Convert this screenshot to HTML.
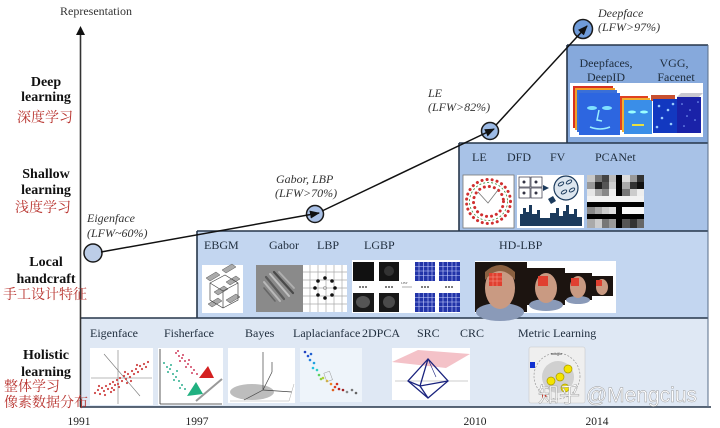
<!DOCTYPE html>
<html><head><meta charset="utf-8">
<style>
html,body{margin:0;padding:0;background:#fff;}
svg{display:block;}
.s{font-family:"Liberation Serif","Noto Serif CJK SC",serif;}
.cn{font-family:"Liberation Serif","Noto Serif CJK SC",serif;fill:#b8332e;font-size:14px;}
.lb{font-family:"Liberation Serif",serif;font-weight:bold;font-size:14px;fill:#111;text-anchor:middle;}
.it{font-family:"Liberation Serif",serif;font-style:italic;font-size:12px;fill:#333;}
.bx{font-family:"Liberation Serif",serif;font-size:12px;fill:#1f2d3d;}
.yr{font-family:"Liberation Serif",serif;font-size:11.5px;fill:#222;text-anchor:middle;}
</style></head>
<body>
<svg width="720" height="428" viewBox="0 0 720 428" xmlns="http://www.w3.org/2000/svg">
<defs>
<marker id="ah" markerWidth="10" markerHeight="8" refX="9" refY="4" orient="auto" markerUnits="userSpaceOnUse">
<path d="M0,0 L10,4 L0,8 z" fill="#111"/>
</marker>
</defs>

<!-- Boxes -->
<rect x="80" y="318" width="628" height="89" fill="#dfe8f4"/>
<rect x="197" y="231" width="511" height="87" fill="#c3d6f0"/>
<rect x="459" y="143" width="249" height="88" fill="#a8c2e7"/>
<rect x="567" y="45" width="141" height="98" fill="#86a9dc"/>
<g stroke="#26364a" stroke-width="1.6" fill="none">
<line x1="80" y1="318" x2="708" y2="318"/>
<line x1="197" y1="231" x2="708" y2="231"/>
<line x1="197" y1="231" x2="197" y2="318"/>
<line x1="459" y1="143" x2="708" y2="143"/>
<line x1="459" y1="143" x2="459" y2="231"/>
<line x1="567" y1="45" x2="708" y2="45"/>
<line x1="567" y1="45" x2="567" y2="143"/>
<line x1="80" y1="407" x2="711" y2="407"/>
</g>
<line x1="708" y1="45" x2="708" y2="407" stroke="#5a6e88" stroke-width="1"/>

<!-- axis -->
<line x1="80.5" y1="407" x2="80.5" y2="33" stroke="#333" stroke-width="1.6"/>
<polygon points="80.5,26 76,35 85,35" fill="#111"/>
<text class="s" x="60" y="15" font-size="12" fill="#333">Representation</text>

<!-- left labels -->
<text class="lb" x="46" y="86">Deep</text>
<text class="lb" x="46" y="101">learning</text>
<text class="cn" x="17" y="122">深度学习</text>
<text class="lb" x="46" y="178">Shallow</text>
<text class="lb" x="46" y="194">learning</text>
<text class="cn" x="15" y="212">浅度学习</text>
<text class="lb" x="46" y="266">Local</text>
<text class="lb" x="46" y="283">handcraft</text>
<text class="cn" x="3" y="299">手工设计特征</text>
<text class="lb" x="46" y="359">Holistic</text>
<text class="lb" x="46" y="376">learning</text>
<text class="cn" x="4" y="391">整体学习</text>
<text class="cn" x="4" y="407">像素数据分布</text>

<!-- years -->
<text class="yr" x="79" y="425">1991</text>
<text class="yr" x="197" y="425">1997</text>
<text class="yr" x="475" y="425">2010</text>
<text class="yr" x="597" y="425">2014</text>

<!-- markers -->
<circle cx="93" cy="253" r="9" fill="#bccde7" stroke="#1a1a1a" stroke-width="1.5"/>
<circle cx="315" cy="214" r="8.5" fill="#a9c0e6" stroke="#1a1a1a" stroke-width="1.5"/>
<circle cx="490" cy="131" r="8.5" fill="#9dbbe6" stroke="#1a1a1a" stroke-width="1.5"/>
<circle cx="583" cy="29" r="9.5" fill="#6f9bd9" stroke="#1a1a1a" stroke-width="1.5"/>
<g stroke="#111" stroke-width="1.5" fill="none">
<line x1="101" y1="252" x2="319" y2="213" marker-end="url(#ah)"/>
<line x1="322" y1="211" x2="494" y2="129" marker-end="url(#ah)"/>
<line x1="496" y1="125" x2="587" y2="26" marker-end="url(#ah)"/>
</g>

<!-- italic labels -->
<text class="it" x="87" y="222">Eigenface</text>
<text class="it" x="87" y="237">(LFW~60%)</text>
<text class="it" x="276" y="183">Gabor, LBP</text>
<text class="it" x="275" y="197">(LFW&gt;70%)</text>
<text class="it" x="428" y="97">LE</text>
<text class="it" x="428" y="111">(LFW&gt;82%)</text>
<text class="it" x="598" y="17">Deepface</text>
<text class="it" x="598" y="31">(LFW&gt;97%)</text>

<!-- Deep box -->
<text class="bx" x="606" y="67" text-anchor="middle">Deepfaces,</text>
<text class="bx" x="606" y="81" text-anchor="middle">DeepID</text>
<text class="bx" x="674" y="67" text-anchor="middle">VGG,</text>
<text class="bx" x="676" y="81" text-anchor="middle">Facenet</text>
<rect x="570" y="83" width="133" height="54" fill="#fff"/>
<rect x="573" y="86" width="40" height="42" fill="#d83020"/>
<rect x="575" y="88" width="40" height="42" fill="#f0a028"/>
<rect x="577" y="90" width="40" height="42" fill="#3a6fd8"/>
<rect x="579" y="93" width="41" height="42" fill="#2d66e0"/>
<ellipse cx="592" cy="108" rx="5" ry="2" fill="#7fe0ff"/>
<ellipse cx="607" cy="108" rx="5" ry="2" fill="#7fe0ff"/>
<path d="M599,110 L597,120 L602,121" stroke="#9ef" stroke-width="1.5" fill="none"/>
<path d="M590,127 Q600,131 610,127" stroke="#9ef" stroke-width="1.5" fill="none"/>
<rect x="620" y="96" width="28" height="34" fill="#e04020"/>
<rect x="622" y="98" width="28" height="34" fill="#f0b030"/>
<rect x="624" y="100" width="28" height="34" fill="#3a8ee8"/>
<ellipse cx="632" cy="112" rx="4" ry="1.5" fill="#9ff"/>
<ellipse cx="644" cy="112" rx="4" ry="1.5" fill="#9ff"/>
<rect x="632" y="124" width="12" height="2" fill="#e8e040"/>
<rect x="651" y="95" width="24" height="6" fill="#c85030"/>
<rect x="653" y="99" width="24" height="34" fill="#1238c0"/>
<g fill="#9cf"><circle cx="659" cy="106" r="1.3"/><circle cx="668" cy="110" r="1.3"/><circle cx="662" cy="118" r="1.3"/><circle cx="671" cy="124" r="1.3"/><circle cx="657" cy="127" r="1.3"/><circle cx="673" cy="104" r="1.3"/></g>
<polygon points="677,97 699,97 703,93 681,93" fill="#c8c8d0"/>
<rect x="677" y="97" width="24" height="36" fill="#1a22a8"/>
<g fill="#8af"><circle cx="682" cy="104" r="0.8"/><circle cx="690" cy="110" r="0.8"/><circle cx="695" cy="120" r="0.8"/><circle cx="684" cy="126" r="0.8"/><circle cx="698" cy="102" r="0.8"/><circle cx="687" cy="116" r="0.8"/></g>

<!-- Shallow box -->
<text class="bx" x="472" y="161">LE</text>
<text class="bx" x="507" y="161">DFD</text>
<text class="bx" x="550" y="161">FV</text>
<text class="bx" x="595" y="161">PCANet</text>
<rect x="463" y="175" width="51" height="53" fill="#fff" stroke="#777" stroke-width="0.8"/>
<circle cx="488.5" cy="201.5" r="19" fill="none" stroke="#3a8a3a" stroke-width="0.8" stroke-dasharray="2 2"/>
<circle cx="488.5" cy="201.5" r="22" fill="none" stroke="#d03030" stroke-width="3" stroke-dasharray="0.1 5" stroke-linecap="round"/>
<circle cx="488.5" cy="201.5" r="15" fill="none" stroke="#d03030" stroke-width="3" stroke-dasharray="0.1 5" stroke-linecap="round"/>
<path d="M478,192 L488,203 L498,190" stroke="#777" stroke-width="0.8" fill="none"/>
<rect x="517" y="175" width="67" height="53" fill="#fff"/>
<g stroke="#334" stroke-width="0.7" fill="#fff">
<rect x="519" y="177" width="11" height="10"/><rect x="531" y="177" width="11" height="10"/>
<rect x="519" y="188" width="11" height="10"/><rect x="531" y="188" width="11" height="10"/>
</g>
<g fill="#334"><circle cx="524" cy="182" r="1.5"/><circle cx="536" cy="182" r="1.5"/><circle cx="524" cy="193" r="1.5"/><circle cx="536" cy="193" r="1.5"/></g>
<polygon points="543,185 549,188 543,191" fill="#1b3a5c"/>
<circle cx="566" cy="188" r="12" fill="#dde6ef" stroke="#1b3a5c" stroke-width="1.2"/>
<g fill="none" stroke="#1b3a5c" stroke-width="1"><ellipse cx="561" cy="184" rx="3" ry="1.5" transform="rotate(-30 561 184)"/><ellipse cx="569" cy="182" rx="3" ry="1.5" transform="rotate(-30 569 182)"/><ellipse cx="564" cy="192" rx="3" ry="1.5" transform="rotate(-30 564 192)"/><ellipse cx="572" cy="190" rx="3" ry="1.5" transform="rotate(-30 572 190)"/></g>
<path d="M520,226 L520,214 L523,214 L523,208 L526,208 L526,212 L529,212 L529,205 L532,205 L532,214 L537,214 L537,210 L540,210 L540,218 L550,218 L550,213 L556,213 L556,208 L559,208 L559,216 L563,216 L563,211 L566,211 L566,205 L569,205 L569,214 L574,214 L574,209 L577,209 L577,217 L582,217 L582,226 Z" fill="#1b3a5c"/>
<polygon points="548,199 553,196 556,201 551,204" fill="#1b3a5c"/>
<g>
<rect x="587" y="175" width="57" height="53" fill="#ddd"/>
<rect x="587" y="175" width="8" height="7" fill="#c8c8c8"/><rect x="595" y="175" width="7" height="7" fill="#777"/><rect x="602" y="175" width="7" height="7" fill="#444"/><rect x="609" y="175" width="7" height="7" fill="#bbb"/><rect x="616" y="175" width="6" height="53" fill="#000"/><rect x="622" y="175" width="8" height="7" fill="#ddd"/><rect x="630" y="175" width="7" height="7" fill="#999"/><rect x="637" y="175" width="7" height="7" fill="#333"/>
<rect x="587" y="182" width="8" height="7" fill="#999"/><rect x="595" y="182" width="7" height="7" fill="#222"/><rect x="602" y="182" width="7" height="7" fill="#555"/><rect x="609" y="182" width="7" height="7" fill="#ccc"/><rect x="622" y="182" width="8" height="7" fill="#aaa"/><rect x="630" y="182" width="7" height="7" fill="#333"/><rect x="637" y="182" width="7" height="7" fill="#111"/>
<rect x="587" y="189" width="8" height="7" fill="#e6e6e6"/><rect x="595" y="189" width="7" height="7" fill="#aaa"/><rect x="602" y="189" width="7" height="7" fill="#888"/><rect x="609" y="189" width="7" height="7" fill="#eee"/><rect x="622" y="189" width="8" height="7" fill="#777"/><rect x="630" y="189" width="7" height="7" fill="#ccc"/><rect x="637" y="189" width="7" height="7" fill="#eee"/>
<rect x="587" y="196" width="57" height="6" fill="#f2f2f2"/>
<rect x="587" y="202" width="57" height="5" fill="#000"/>
<rect x="587" y="207" width="8" height="7" fill="#888"/><rect x="595" y="207" width="7" height="7" fill="#aaa"/><rect x="602" y="207" width="7" height="7" fill="#ccc"/><rect x="609" y="207" width="7" height="7" fill="#ddd"/><rect x="622" y="207" width="22" height="7" fill="#f8f8f8"/>
<rect x="587" y="214" width="57" height="5" fill="#000"/>
<rect x="587" y="219" width="8" height="9" fill="#aaa"/><rect x="595" y="219" width="7" height="9" fill="#ccc"/><rect x="602" y="219" width="7" height="9" fill="#777"/><rect x="609" y="219" width="7" height="9" fill="#999"/><rect x="622" y="219" width="8" height="9" fill="#555"/><rect x="630" y="219" width="7" height="9" fill="#333"/><rect x="637" y="219" width="7" height="9" fill="#666"/>
</g>

<!-- Local box -->
<text class="bx" x="204" y="249">EBGM</text>
<text class="bx" x="269" y="249">Gabor</text>
<text class="bx" x="317" y="249">LBP</text>
<text class="bx" x="364" y="249">LGBP</text>
<text class="bx" x="499" y="249">HD-LBP</text>
<rect x="202" y="265" width="41" height="48" fill="#fff"/>
<g fill="#aaa" stroke="#555" stroke-width="0.5">
<polygon points="206,278 216,272 220,275 210,281"/>
<polygon points="222,270 232,264 236,267 226,273" />
<polygon points="214,292 224,286 228,289 218,295"/>
<polygon points="226,282 236,276 240,279 230,285"/>
<polygon points="208,304 218,298 222,301 212,307"/>
<polygon points="226,300 236,294 240,297 230,303"/>
</g>
<path d="M210,283 L225,275 L238,283 L238,300 L223,308 L210,300 Z M210,283 L223,291 L238,283 M223,291 L223,308" stroke="#444" stroke-width="0.7" fill="none"/>
<rect x="256" y="265" width="47" height="47" fill="#8a8a8a"/>
<g stroke-linecap="round">
<line x1="266" y1="277" x2="284" y2="299" stroke="#5a5a5a" stroke-width="2.2"/>
<line x1="270" y1="274" x2="289" y2="296" stroke="#c0c0c0" stroke-width="2"/>
<line x1="274" y1="272" x2="293" y2="293" stroke="#4a4a4a" stroke-width="2.2"/>
<line x1="264" y1="282" x2="280" y2="301" stroke="#b8b8b8" stroke-width="2"/>
<line x1="279" y1="272" x2="294" y2="288" stroke="#b0b0b0" stroke-width="1.8"/>
<line x1="264" y1="288" x2="275" y2="301" stroke="#666" stroke-width="1.6"/>
</g>
<rect x="303" y="265" width="44" height="47" fill="#fff"/>
<g stroke="#aaa" stroke-width="0.7">
<line x1="303" y1="272" x2="347" y2="272"/><line x1="303" y1="280" x2="347" y2="280"/><line x1="303" y1="288" x2="347" y2="288"/><line x1="303" y1="296" x2="347" y2="296"/><line x1="303" y1="304" x2="347" y2="304"/>
<line x1="310" y1="265" x2="310" y2="312"/><line x1="318" y1="265" x2="318" y2="312"/><line x1="326" y1="265" x2="326" y2="312"/><line x1="334" y1="265" x2="334" y2="312"/><line x1="342" y1="265" x2="342" y2="312"/>
</g>
<g fill="#111"><circle cx="325" cy="278" r="1.8"/><circle cx="332" cy="281" r="1.8"/><circle cx="335" cy="288" r="1.8"/><circle cx="332" cy="295" r="1.8"/><circle cx="325" cy="298" r="1.8"/><circle cx="318" cy="295" r="1.8"/><circle cx="315" cy="288" r="1.8"/><circle cx="318" cy="281" r="1.8"/></g>
<circle cx="325" cy="288" r="1.5" fill="none" stroke="#888" stroke-width="0.6"/>
<rect x="352" y="260" width="108" height="53" fill="#fff"/>
<rect x="353" y="262" width="21" height="19" fill="#111"/><rect x="379" y="262" width="20" height="19" fill="#151515"/>
<rect x="353" y="293" width="21" height="19" fill="#1a1a1a"/><rect x="379" y="293" width="20" height="19" fill="#181818"/>
<ellipse cx="363" cy="302" rx="7" ry="6" fill="#555"/><ellipse cx="389" cy="302" rx="6" ry="6" fill="#4a4a4a"/>
<ellipse cx="389" cy="271" rx="5" ry="5" fill="#333"/>
<g fill="#222"><circle cx="360" cy="287" r="0.9"/><circle cx="363" cy="287" r="0.9"/><circle cx="366" cy="287" r="0.9"/><circle cx="386" cy="287" r="0.9"/><circle cx="389" cy="287" r="0.9"/><circle cx="392" cy="287" r="0.9"/><circle cx="422" cy="287" r="0.9"/><circle cx="425" cy="287" r="0.9"/><circle cx="428" cy="287" r="0.9"/><circle cx="446" cy="287" r="0.9"/><circle cx="449" cy="287" r="0.9"/><circle cx="452" cy="287" r="0.9"/></g>
<line x1="402" y1="287" x2="412" y2="287" stroke="#777" stroke-width="0.6"/>
<text x="401" y="284" font-size="3.5" fill="#555" class="s">LBP</text>
<g>
<rect x="415" y="262" width="20" height="19" fill="#2234a8"/><rect x="439" y="262" width="21" height="19" fill="#2234a8"/>
<rect x="415" y="293" width="20" height="19" fill="#2234a8"/><rect x="439" y="293" width="21" height="19" fill="#2234a8"/>
<g stroke="#c8d0ff" stroke-width="0.6">
<path d="M415,266.5 h20 M415,271 h20 M415,275.5 h20 M419,262 v19 M423.5,262 v19 M428,262 v19 M432,262 v19"/>
<path d="M439,266.5 h21 M439,271 h21 M439,275.5 h21 M443,262 v19 M447.5,262 v19 M452,262 v19 M456,262 v19"/>
<path d="M415,297.5 h20 M415,302 h20 M415,306.5 h20 M419,293 v19 M423.5,293 v19 M428,293 v19 M432,293 v19"/>
<path d="M439,297.5 h21 M439,302 h21 M439,306.5 h21 M443,293 v19 M447.5,293 v19 M452,293 v19 M456,293 v19"/>
</g>
</g>
<rect x="475" y="261" width="141" height="52" fill="#fff"/>
<rect x="475" y="262" width="52" height="50" fill="#1c1410"/>
<ellipse cx="500" cy="312" rx="24" ry="9" fill="#8a9ab8"/>
<ellipse cx="500" cy="288" rx="15" ry="21" fill="#c99a82"/>
<path d="M485,280 Q500,262 515,280 L515,272 Q500,258 485,272 Z" fill="#8a6040"/>
<rect x="489" y="273" width="13" height="13" fill="#e04030"/>
<g stroke="#f7a090" stroke-width="0.5"><path d="M489,277 h13 M489,281 h13 M493,273 v13 M497,273 v13"/></g>
<rect x="527" y="268" width="38" height="37" fill="#1c1410"/>
<ellipse cx="546" cy="305" rx="17" ry="6" fill="#8a9ab8"/>
<ellipse cx="546" cy="288" rx="11" ry="15" fill="#c99a82"/>
<rect x="538" y="276" width="10" height="10" fill="#e04030"/>
<rect x="565" y="273" width="27" height="27" fill="#1c1410"/>
<ellipse cx="578" cy="300" rx="12" ry="4" fill="#8a9ab8"/>
<ellipse cx="578" cy="287" rx="8" ry="11" fill="#c99a82"/>
<rect x="571" y="278" width="8" height="8" fill="#e04030"/>
<rect x="592" y="276" width="21" height="20" fill="#1c1410"/>
<ellipse cx="602" cy="287" rx="6" ry="8" fill="#c99a82"/>
<rect x="596" y="280" width="6" height="6" fill="#e04030"/>

<!-- Holistic box -->
<text class="bx" x="90" y="337">Eigenface</text>
<text class="bx" x="164" y="337">Fisherface</text>
<text class="bx" x="245" y="337">Bayes</text>
<text class="bx" x="293" y="337">Laplacianface</text>
<text class="bx" x="362" y="337">2DPCA</text>
<text class="bx" x="417" y="337">SRC</text>
<text class="bx" x="460" y="337">CRC</text>
<text class="bx" x="518" y="337">Metric Learning</text>

<rect x="90" y="348" width="63" height="57" fill="#fff"/>
<g stroke="#777" stroke-width="0.6">
<line x1="91" y1="378" x2="152" y2="378"/><line x1="118" y1="350" x2="118" y2="404"/>
<line x1="104" y1="354" x2="140" y2="396"/>
</g>
<g fill="#d04848">
<circle cx="95" cy="393" r="1.1"/><circle cx="98" cy="390" r="1.1"/><circle cx="100" cy="394" r="1.1"/><circle cx="102" cy="388" r="1.1"/><circle cx="104" cy="391" r="1.1"/><circle cx="106" cy="386" r="1.1"/><circle cx="108" cy="389" r="1.1"/><circle cx="110" cy="384" r="1.1"/><circle cx="112" cy="388" r="1.1"/><circle cx="113" cy="382" r="1.1"/><circle cx="115" cy="385" r="1.1"/><circle cx="117" cy="380" r="1.1"/><circle cx="118" cy="384" r="1.1"/><circle cx="120" cy="378" r="1.1"/><circle cx="122" cy="381" r="1.1"/><circle cx="124" cy="376" r="1.1"/><circle cx="126" cy="379" r="1.1"/><circle cx="128" cy="374" r="1.1"/><circle cx="130" cy="377" r="1.1"/><circle cx="132" cy="371" r="1.1"/><circle cx="134" cy="374" r="1.1"/><circle cx="136" cy="369" r="1.1"/><circle cx="138" cy="372" r="1.1"/><circle cx="140" cy="366" r="1.1"/><circle cx="142" cy="369" r="1.1"/><circle cx="144" cy="364" r="1.1"/><circle cx="146" cy="367" r="1.1"/><circle cx="148" cy="362" r="1.1"/><circle cx="105" cy="395" r="1.1"/><circle cx="111" cy="392" r="1.1"/><circle cx="125" cy="372" r="1.1"/><circle cx="131" cy="381" r="1.1"/><circle cx="119" cy="387" r="1.1"/><circle cx="137" cy="365" r="1.1"/><circle cx="99" cy="386" r="1.1"/><circle cx="114" cy="390" r="1.1"/><circle cx="127" cy="383" r="1.1"/>
</g>
<rect x="158" y="348" width="65" height="57" fill="#fff"/>
<g stroke="#333" stroke-width="0.8"><line x1="160" y1="349" x2="160" y2="404"/><line x1="160" y1="404" x2="222" y2="404"/></g>
<line x1="196" y1="401" x2="222" y2="379" stroke="#999" stroke-width="2"/>
<g fill="#d04060">
<circle cx="176" cy="353" r="1"/><circle cx="179" cy="356" r="1"/><circle cx="182" cy="358" r="1"/><circle cx="180" cy="361" r="1"/><circle cx="185" cy="361" r="1"/><circle cx="188" cy="364" r="1"/><circle cx="186" cy="367" r="1"/><circle cx="191" cy="367" r="1"/><circle cx="194" cy="370" r="1"/><circle cx="192" cy="373" r="1"/><circle cx="197" cy="374" r="1"/><circle cx="178" cy="351" r="1"/><circle cx="183" cy="355" r="1"/><circle cx="189" cy="360" r="1"/>
</g>
<g fill="#30b090">
<circle cx="164" cy="363" r="1"/><circle cx="167" cy="367" r="1"/><circle cx="170" cy="369" r="1"/><circle cx="168" cy="372" r="1"/><circle cx="173" cy="374" r="1"/><circle cx="176" cy="377" r="1"/><circle cx="174" cy="380" r="1"/><circle cx="179" cy="381" r="1"/><circle cx="182" cy="385" r="1"/><circle cx="180" cy="388" r="1"/><circle cx="185" cy="389" r="1"/><circle cx="171" cy="365" r="1"/><circle cx="177" cy="371" r="1"/>
</g>
<polygon points="199,378 208,366 214,378" fill="#d42020"/>
<polygon points="187,396 196,382 203,394" fill="#20b080"/>

<rect x="228" y="348" width="67" height="55" fill="#fff"/>
<ellipse cx="252" cy="392" rx="22" ry="8" fill="#bdbdbd"/>
<g stroke="#444" stroke-width="0.7" fill="none">
<line x1="263" y1="352" x2="263" y2="390"/><line x1="263" y1="390" x2="244" y2="400"/><line x1="263" y1="390" x2="292" y2="392"/>
<line x1="263" y1="390" x2="272" y2="372"/><line x1="272" y1="372" x2="272" y2="362"/>
</g>
<g stroke="#aaa" stroke-width="0.5" fill="none"><path d="M230,401 L289,401 L294,384"/></g>

<rect x="300" y="348" width="62" height="54" fill="#eef4fa"/>
<g>
<circle cx="305" cy="352" r="1.3" fill="#2040c0"/><circle cx="308" cy="356" r="1.3" fill="#2050d0"/><circle cx="311" cy="354" r="1.3" fill="#2060d0"/><circle cx="310" cy="360" r="1.3" fill="#2080e0"/><circle cx="314" cy="363" r="1.3" fill="#20a0e0"/><circle cx="313" cy="368" r="1.3" fill="#20c0e0"/><circle cx="317" cy="370" r="1.3" fill="#30d0c0"/><circle cx="319" cy="375" r="1.3" fill="#60d060"/><circle cx="323" cy="378" r="1.3" fill="#b0d030"/><circle cx="327" cy="381" r="1.3" fill="#f0c020"/><circle cx="331" cy="384" r="1.3" fill="#f08020"/><circle cx="335" cy="387" r="1.3" fill="#e04020"/><circle cx="339" cy="389" r="1.3" fill="#c02020"/><circle cx="343" cy="390" r="1.3" fill="#a02020"/><circle cx="347" cy="392" r="1.3" fill="#888"/><circle cx="352" cy="390" r="1.3" fill="#777"/><circle cx="356" cy="393" r="1.3" fill="#666"/><circle cx="321" cy="379" r="1.3" fill="#90d040"/><circle cx="333" cy="390" r="1.3" fill="#e06020"/><circle cx="337" cy="384" r="1.3" fill="#d03020"/>
</g>
<rect x="325" y="372" width="6" height="9" fill="none" stroke="#999" stroke-width="0.5" transform="rotate(-20 328 376)"/>

<rect x="392" y="348" width="78" height="52" fill="#fff"/>
<polygon points="392,362 418,350 470,354 446,368" fill="#f4c2c8"/>
<line x1="395" y1="381" x2="468" y2="381" stroke="#999" stroke-width="0.6"/>
<g stroke="#1a237e" stroke-width="1.3" fill="none">
<path d="M428,359 L408,381 L428,398 L448,381 Z"/>
<path d="M428,359 L420,386 L428,398 M408,381 L420,386 L448,381"/>
</g>
<line x1="428" y1="359" x2="436" y2="377" stroke="#1a237e" stroke-width="0.6"/>

<rect x="529" y="347" width="56" height="56" rx="2" fill="#efefef" stroke="#c8c8c8" stroke-width="0.6"/>
<circle cx="557" cy="376" r="23" fill="none" stroke="#999" stroke-width="0.7" stroke-dasharray="2 1.5"/>
<circle cx="558" cy="377" r="16" fill="#d0d0d0"/>
<g fill="#f4e400" stroke="#a89800" stroke-width="0.7">
<circle cx="551" cy="381" r="4"/><circle cx="560" cy="377" r="4"/><circle cx="568" cy="369" r="4"/><circle cx="565" cy="388" r="4"/>
</g>
<rect x="530" y="362" width="5" height="6" fill="#1030d0"/>
<polygon points="542,393 547,396 542,399" fill="#d02010"/>
<text x="551" y="355" font-size="4" class="s" fill="#333">margin</text>

<!-- watermark -->
<text x="538" y="402" font-family="'Liberation Sans','Noto Sans CJK SC',sans-serif" font-size="21" fill="rgba(255,255,255,0.95)" stroke="#9a9a9a" stroke-width="0.45">知乎 @Mengcius</text>
</svg>
</body></html>
